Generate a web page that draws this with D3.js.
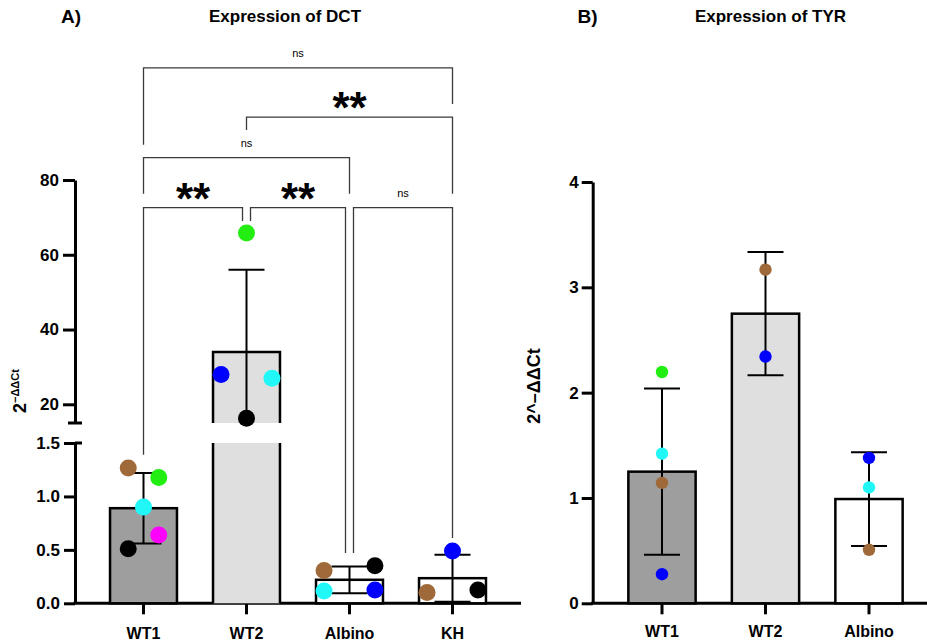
<!DOCTYPE html>
<html><head><meta charset="utf-8">
<script src="https://cdn.jsdelivr.net/npm/d3@7"></script>
<style>body{margin:0;background:#fff}</style>
</head><body><svg id="c" width="927" height="644"></svg>
<script>
// ---------- Panel A data (Expression of DCT) ----------
const catsA = ["WT1", "WT2", "Albino", "KH"];
const meansA = [0.89, 34.0, 0.22, 0.235];
const sdsA = [0.33, 22.0, 0.125, 0.22];
const ptValsA = [[1.265, 1.177, 0.90, 0.51, 0.64], [65.8, 28.0, 27.0, 16.3], [0.306, 0.352, 0.115, 0.125], [0.49, 0.10, 0.125]];
const ptSampA = [["brown", "green", "cyan", "black", "magenta"], ["green", "blue", "cyan", "black"], ["brown", "black", "cyan", "blue"], ["blue", "brown", "black"]];
const ptLaneA = [[-0.6, 0.6, 0, -0.6, 0.6], [0, -1, 1, 0], [-1, 1, -1, 1], [0, -1, 1]];
const ticksTopA = [20, 40, 60, 80];
const ticksBotA = [0, 0.5, 1.0, 1.5];
const breakA = [1.5, 15];
const topMaxA = 80;
// brackets: groups compared, level of the bar, where each leg ends (data units), label
const bracketA_from = ["WT1", "WT2", "WT1", "WT1", "WT2", "Albino"];
const bracketA_to = ["KH", "KH", "Albino", "WT2", "Albino", "KH"];
const bracketA_level = [110, 96.8, 86, 72.6, 72.6, 72.6];
const bracketA_endFrom = [89.4, 93.4, 76.3, 1.39, 69.0, 0.47];
const bracketA_endTo = [100.3, 76.3, 76.3, 69.0, 0.47, 0.61];
const bracketA_label = ["ns", "**", "ns", "**", "**", "ns"];

// ---------- Panel B data (Expression of TYR) ----------
const catsB = ["WT1", "WT2", "Albino"];
const meansB = [1.25, 2.75, 0.99];
const sdsB = [0.79, 0.585, 0.445];
const ptValsB = [[2.196, 1.42, 1.143, 0.276], [3.168, 2.343], [1.38, 1.10, 0.508]];
const ptSampB = [["green", "cyan", "brown", "blue"], ["brown", "blue"], ["blue", "cyan", "brown"]];
const ticksB = [0, 1, 2, 3, 4];

// ---------- styles ----------
const sampleColors = {brown: "#a0693a", green: "#22ee11", cyan: "#22f7f7", magenta: "#ff00ff", black: "#000000", blue: "#0000ff"};
const barFills = {WT1: "#9e9e9e", WT2: "#dfdfdf", Albino: "#ffffff", KH: "#ffffff"};
const FONT = "'Liberation Sans', Arial, Helvetica, sans-serif";

const svg = d3.select("#c");

function styleAxis(g, fs) {
  g.attr("font-family", FONT).attr("font-size", fs).attr("font-weight", "bold");
  g.selectAll("path.domain").attr("stroke", "#000").attr("stroke-width", 3);
  g.selectAll(".tick line").attr("stroke", "#000").attr("stroke-width", 3);
  g.selectAll(".tick text").attr("fill", "#000");
}

// ================= PANEL A =================
const axA = 75;
const xA = d3.scaleBand().domain(catsA).range([92, 504]).paddingInner(0.35).paddingOuter(0.175);
const yTop = d3.scaleLinear().domain([breakA[1], topMaxA]).range([423, 180]);
const yBot = d3.scaleLinear().domain([0, breakA[0]]).range([603.3, 443]);
const yA = v => v >= breakA[1] ? yTop(v) : yBot(Math.min(v, breakA[0]));
const bwA = xA.bandwidth();
const cxA = c => xA(c) + bwA / 2;

// y axes (two segments)
const gTop = svg.append("g").attr("transform", `translate(${axA},0)`)
  .call(d3.axisLeft(yTop).tickValues(ticksTopA).tickFormat(d3.format("d")).tickSize(12).tickSizeOuter(0).tickPadding(4));
styleAxis(gTop, 17);
const gBot = svg.append("g").attr("transform", `translate(${axA},0)`)
  .call(d3.axisLeft(yBot).tickValues(ticksBotA).tickFormat(d3.format(".1f")).tickSize(11).tickSizeOuter(0).tickPadding(4));
styleAxis(gBot, 17);
// break caps
svg.append("line").attr("x1", axA - 7).attr("x2", axA + 7).attr("y1", yTop(breakA[1])).attr("y2", yTop(breakA[1])).attr("stroke", "#000").attr("stroke-width", 3);
svg.append("line").attr("x1", axA).attr("x2", axA + 7).attr("y1", yBot(breakA[0])).attr("y2", yBot(breakA[0])).attr("stroke", "#000").attr("stroke-width", 3);

// x axis A
const gxA = svg.append("g").attr("transform", `translate(0,${yBot(0)})`)
  .call(d3.axisBottom(xA).tickSize(11).tickSizeOuter(0).tickPadding(10));
styleAxis(gxA, 16);
gxA.select("path.domain").remove();
gxA.selectAll(".tick text").attr("dy", "0.95em");
svg.append("line").attr("x1", axA - 1.5).attr("x2", 521).attr("y1", yBot(0)).attr("y2", yBot(0)).attr("stroke", "#000").attr("stroke-width", 3);

// bars A
const barsA = svg.append("g");
catsA.forEach((c, i) => {
  const m = meansA[i], x0 = xA(c), x1 = x0 + bwA;
  if (m <= breakA[0]) {
    barsA.append("rect").attr("x", x0).attr("y", yBot(m)).attr("width", bwA).attr("height", yBot(0) - yBot(m))
      .attr("fill", barFills[c]).attr("stroke", "#000").attr("stroke-width", 2.5);
  } else {
    barsA.append("rect").attr("x", x0).attr("y", yBot(breakA[0])).attr("width", bwA).attr("height", yBot(0) - yBot(breakA[0])).attr("fill", barFills[c]);
    barsA.append("path").attr("d", `M${x0},${yBot(0)}V${yBot(breakA[0])}M${x1},${yBot(breakA[0])}V${yBot(0)}`).attr("fill", "none").attr("stroke", "#000").attr("stroke-width", 2.5);
    barsA.append("rect").attr("x", x0).attr("y", yTop(m)).attr("width", bwA).attr("height", yTop(breakA[1]) - yTop(m)).attr("fill", barFills[c]);
    barsA.append("path").attr("d", `M${x0},${yTop(breakA[1])}V${yTop(m)}H${x1}V${yTop(breakA[1])}`).attr("fill", "none").attr("stroke", "#000").attr("stroke-width", 2.5);
  }
});

// error bars A
const errA = svg.append("g").attr("stroke", "#000").attr("stroke-width", 2).attr("fill", "none");
const segsA = [[0, breakA[0], yBot], [breakA[1], topMaxA, yTop]];
catsA.forEach((c, i) => {
  const lo = meansA[i] - sdsA[i], hi = meansA[i] + sdsA[i], cx = cxA(c);
  segsA.forEach(([s0, s1, sc]) => {
    const a = Math.max(lo, s0), b = Math.min(hi, s1);
    if (a < b) errA.append("line").attr("x1", cx).attr("x2", cx).attr("y1", sc(a)).attr("y2", sc(b));
    [lo, hi].forEach(v => {
      if (v >= s0 && v <= s1) errA.append("line").attr("x1", cx - 18).attr("x2", cx + 18).attr("y1", sc(v)).attr("y2", sc(v));
    });
  });
});

// points A
const ptsA = svg.append("g");
catsA.forEach((c, i) => {
  ptValsA[i].forEach((v, j) => {
    ptsA.append("circle").attr("cx", cxA(c) + ptLaneA[i][j] * bwA * 0.38).attr("cy", yA(v)).attr("r", 8.5)
      .attr("fill", sampleColors[ptSampA[i][j]]);
  });
});

// significance brackets A
const brG = svg.append("g");
bracketA_from.forEach((a, k) => {
  const b = bracketA_to[k], lvl = bracketA_level[k];
  const shared = cat => bracketA_level.some((l, q) => q !== k && l === lvl && (bracketA_from[q] === cat || bracketA_to[q] === cat));
  const xa = cxA(a) + (shared(a) ? 4 : 0);
  const xb = cxA(b) - (shared(b) ? 4 : 0);
  const yl = yA(lvl);
  brG.append("path").attr("d", `M${xa},${yA(bracketA_endFrom[k])}V${yl}H${xb}V${yA(bracketA_endTo[k])}`)
    .attr("fill", "none").attr("stroke", "#3a3a3a").attr("stroke-width", 1.3);
  const lab = bracketA_label[k];
  if (lab === "ns") {
    brG.append("text").attr("x", (xa + xb) / 2).attr("y", yl - 10.5).attr("text-anchor", "middle")
      .attr("font-family", FONT).attr("font-size", 11).attr("fill", "#000").text(lab);
  } else {
    brG.append("text").attr("x", (xa + xb) / 2).attr("y", yl + 6).attr("text-anchor", "middle")
      .attr("font-family", FONT).attr("font-size", 44).attr("font-weight", "bold")
      .attr("fill", "#000").text(lab);
  }
});

// titles & y label A
svg.append("text").attr("x", 61).attr("y", 23).attr("font-family", FONT).attr("font-size", 19).attr("font-weight", "bold").text("A)");
svg.append("text").attr("x", 285).attr("y", 21.5).attr("text-anchor", "middle").attr("font-family", FONT).attr("font-size", 17).attr("font-weight", "bold").text("Expression of DCT");
const ylA = svg.append("text").attr("transform", "translate(26,413) rotate(-90)").attr("font-family", FONT).attr("font-weight", "bold");
ylA.append("tspan").attr("font-size", 18).text("2");
ylA.append("tspan").attr("font-size", 11).attr("dy", -7).text("\u2212\u0394\u0394Ct");

// ================= PANEL B =================
const axB = 592.7;
const xB = d3.scaleBand().domain(catsB).range([610.25, 920.75]).paddingInner(0.35).paddingOuter(0.175);
const yB = d3.scaleLinear().domain([0, 4]).range([603.3, 182]);
const bwB = xB.bandwidth();
const cxB = c => xB(c) + bwB / 2;

const gyB = svg.append("g").attr("transform", `translate(${axB},0)`)
  .call(d3.axisLeft(yB).tickValues(ticksB).tickFormat(d3.format("d")).tickSize(11).tickSizeOuter(0).tickPadding(3));
styleAxis(gyB, 17);
const gxB = svg.append("g").attr("transform", `translate(0,${yB(0)})`)
  .call(d3.axisBottom(xB).tickSize(11).tickSizeOuter(0).tickPadding(8));
styleAxis(gxB, 16);
gxB.select("path.domain").remove();
gxB.selectAll(".tick text").attr("dy", "0.95em");
svg.append("line").attr("x1", axB - 1.5).attr("x2", 927).attr("y1", yB(0)).attr("y2", yB(0)).attr("stroke", "#000").attr("stroke-width", 3);

// bars B
svg.append("g").selectAll("rect").data(catsB).join("rect")
  .attr("x", c => xB(c)).attr("y", (c, i) => yB(meansB[i])).attr("width", bwB)
  .attr("height", (c, i) => yB(0) - yB(meansB[i])).attr("fill", c => barFills[c]).attr("stroke", "#000").attr("stroke-width", 2.5);

// error bars B
const errB = svg.append("g").attr("stroke", "#000").attr("stroke-width", 2);
catsB.forEach((c, i) => {
  const lo = meansB[i] - sdsB[i], hi = meansB[i] + sdsB[i], cx = cxB(c);
  errB.append("line").attr("x1", cx).attr("x2", cx).attr("y1", yB(lo)).attr("y2", yB(hi));
  [lo, hi].forEach(v => errB.append("line").attr("x1", cx - 18).attr("x2", cx + 18).attr("y1", yB(v)).attr("y2", yB(v)));
});

// points B
const ptsB = svg.append("g");
catsB.forEach((c, i) => {
  ptValsB[i].forEach((v, j) => {
    ptsB.append("circle").attr("cx", cxB(c)).attr("cy", yB(v)).attr("r", 6.2).attr("fill", sampleColors[ptSampB[i][j]]);
  });
});

// titles & y label B
svg.append("text").attr("x", 577.5).attr("y", 23).attr("font-family", FONT).attr("font-size", 19).attr("font-weight", "bold").text("B)");
svg.append("text").attr("x", 770.5).attr("y", 22).attr("text-anchor", "middle").attr("font-family", FONT).attr("font-size", 17).attr("font-weight", "bold").text("Expression of TYR");
svg.append("text").attr("transform", "translate(540,386) rotate(-90)").attr("text-anchor", "middle")
  .attr("font-family", FONT).attr("font-size", 18).attr("font-weight", "bold").text("2^\u2013\u0394\u0394Ct");
</script>
</body></html>
